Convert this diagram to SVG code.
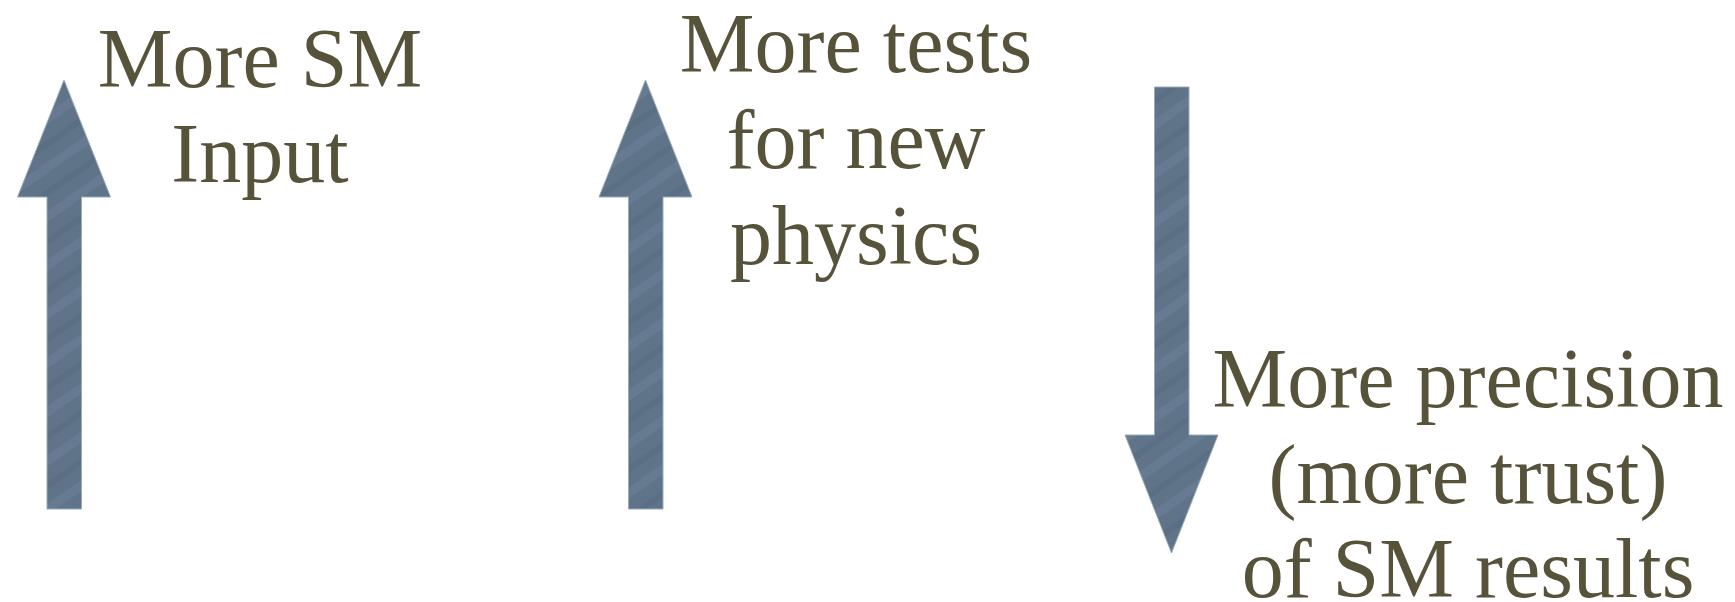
<svg xmlns="http://www.w3.org/2000/svg" width="1735" height="602" viewBox="0 0 1735 602">
  <defs>
    <pattern id="grain" patternUnits="userSpaceOnUse" width="40" height="40" patternTransform="rotate(-35)">
      <rect width="40" height="40" fill="#5f7389"/>
      <rect y="0" width="40" height="9" fill="#6a7f95" opacity="0.7"/>
      <rect y="22" width="40" height="6" fill="#566a80" opacity="0.6"/>
    </pattern>
  </defs>
  <style>
    .arrow { fill: url(#grain); stroke: #9aaabb; stroke-width: 1; }
    .label { font-family: "Liberation Serif", "Times New Roman", serif; font-size: 84px; fill: #57533a; text-anchor: middle; }
  </style>
  <rect width="1735" height="602" fill="#ffffff"/>
  <g id="arrow-sm-input">
    <polygon class="arrow" points="64,80 110.5,197 81.5,197 81.5,509 47,509 47,197 17.5,197"/>
    <text class="label" x="260" y="87">More SM</text>
    <text class="label" x="260" y="182">Input</text>
  </g>
  <g id="arrow-new-physics">
    <polygon class="arrow" points="645.5,80 692,197 663,197 663,509 628.5,509 628.5,197 599,197"/>
    <text class="label" x="856" y="72">More tests</text>
    <text class="label" x="856" y="168">for new</text>
    <text class="label" x="856" y="264">physics</text>
  </g>
  <g id="arrow-precision">
    <polygon class="arrow" points="1154.5,87 1189,87 1189,435 1218,435 1171.5,553 1125,435 1154.5,435"/>
    <text class="label" x="1468" y="407">More precision</text>
    <text class="label" x="1468" y="503">(more trust)</text>
    <text class="label" x="1468" y="597">of SM results</text>
  </g>
</svg>
